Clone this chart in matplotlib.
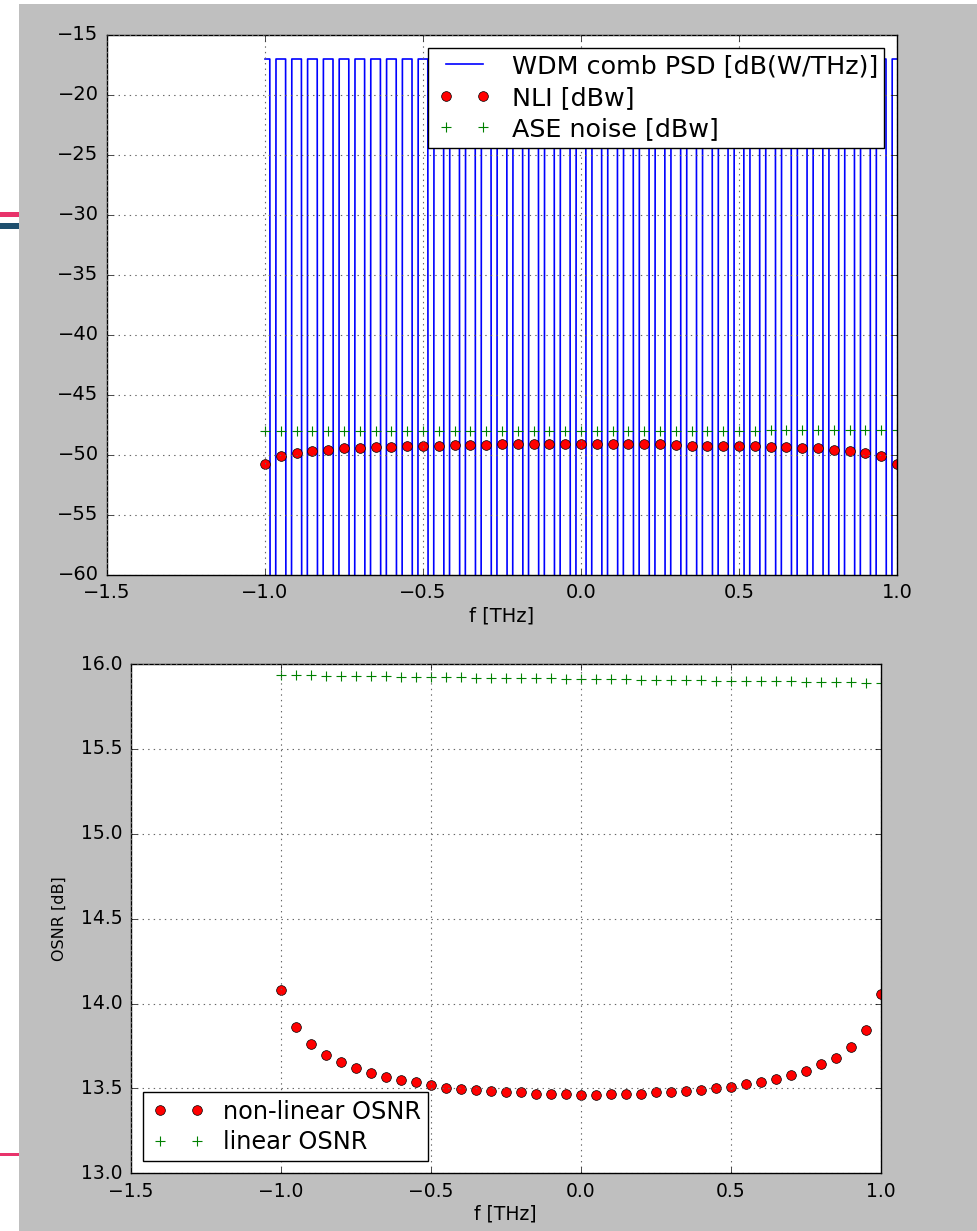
import matplotlib
matplotlib.use("Agg")
import matplotlib.pyplot as plt
from matplotlib.patches import Rectangle
from matplotlib.lines import Line2D
from matplotlib.legend_handler import HandlerLine2D
import numpy as np

plt.style.use('classic')
plt.rcParams['font.family'] = ['DejaVu Sans']

# ---------------- data ----------------
f_ch = [-1.00, -0.95, -0.90, -0.85, -0.80, -0.75, -0.70, -0.65, -0.60, -0.55,
        -0.50, -0.45, -0.40, -0.35, -0.30, -0.25, -0.20, -0.15, -0.10, -0.05,
        0.00, 0.05, 0.10, 0.15, 0.20, 0.25, 0.30, 0.35, 0.40, 0.45,
        0.50, 0.55, 0.60, 0.65, 0.70, 0.75, 0.80, 0.85, 0.90, 0.95, 1.00]

psd_level = -17.0          # dB(W/THz), flat top of every channel
symbol_rate = 0.032        # THz
roll_off = 0.05
psd_floor = -100.0         # value used where the comb is empty

nli_dbw = [-50.75, -50.06, -49.81, -49.67, -49.56, -49.45, -49.41, -49.34, -49.32, -49.24,
           -49.22, -49.21, -49.20, -49.20, -49.19, -49.12, -49.11, -49.10, -49.10, -49.10,
           -49.10, -49.10, -49.11, -49.11, -49.12, -49.12, -49.20, -49.21, -49.22, -49.22,
           -49.23, -49.24, -49.33, -49.34, -49.44, -49.45, -49.56, -49.67, -49.81, -50.06, -50.75]

ase_dbw = [-47.990, -47.989, -47.988, -47.987, -47.986, -47.985, -47.984, -47.983, -47.982, -47.981,
           -47.980, -47.979, -47.978, -47.977, -47.976, -47.975, -47.974, -47.973, -47.972, -47.971,
           -47.970, -47.969, -47.968, -47.967, -47.966, -47.965, -47.964, -47.963, -47.962, -47.961,
           -47.960, -47.959, -47.958, -47.957, -47.956, -47.955, -47.954, -47.953, -47.952, -47.951, -47.950]

osnr_nl = [14.082, 13.862, 13.761, 13.698, 13.653, 13.621, 13.590, 13.567, 13.551, 13.535,
           13.519, 13.503, 13.496, 13.488, 13.483, 13.478, 13.478, 13.469, 13.469, 13.469,
           13.459, 13.459, 13.469, 13.469, 13.469, 13.478, 13.478, 13.484, 13.492, 13.500,
           13.508, 13.524, 13.539, 13.553, 13.578, 13.600, 13.641, 13.681, 13.743, 13.843, 14.055]

osnr_lin = [15.935, 15.934, 15.933, 15.932, 15.930, 15.929, 15.928, 15.927, 15.926, 15.925,
            15.924, 15.923, 15.921, 15.920, 15.919, 15.918, 15.917, 15.916, 15.915, 15.914,
            15.912, 15.911, 15.910, 15.909, 15.908, 15.907, 15.906, 15.905, 15.903, 15.902,
            15.901, 15.900, 15.899, 15.898, 15.897, 15.896, 15.894, 15.893, 15.892, 15.891, 15.890]

top_xticks = [-1.5, -1.0, -0.5, 0.0, 0.5, 1.0]
top_yticks = [-60, -55, -50, -45, -40, -35, -30, -25, -20, -15]
bot_yticks = [13.0, 13.5, 14.0, 14.5, 15.0, 15.5, 16.0]

# ---------------- comb polyline from channel list ----------------
half_out = symbol_rate * (1 + roll_off) / 2
half_in = symbol_rate * (1 - roll_off) / 2
f_lo, f_hi = f_ch[0], f_ch[-1]
comb_f, comb_p = [], []
for c in f_ch:
    pts = [(c - half_out, psd_floor), (c - half_in, psd_level),
           (c + half_in, psd_level), (c + half_out, psd_floor)]
    for x, y in pts:
        if x < f_lo:
            x, y = f_lo, psd_level
        if x > f_hi:
            x, y = f_hi, psd_level
        comb_f.append(x)
        comb_p.append(y)

# ---------------- figure ----------------
W, H = 978, 1231
fig = plt.figure(figsize=(W / 100, H / 100), dpi=100, facecolor='#bfbfbf')

# screenshot surroundings
def px_rect(x0, y0, x1, y1, color):
    fig.patches.append(Rectangle((x0 / W, 1 - y1 / H), (x1 - x0) / W, (y1 - y0) / H,
                                 transform=fig.transFigure, facecolor=color,
                                 edgecolor='none', zorder=0))
px_rect(0, 0, 19, H, 'white')
px_rect(0, 0, W, 4, 'white')
px_rect(0, 212, 19, 217, '#e8336b')
px_rect(0, 223, 19, 229, '#1e4f6e')
px_rect(0, 1153, 19, 1156, '#e8336b')

hmap = {Line2D: HandlerLine2D(marker_pad=0.44)}

# top axes
ax1 = fig.add_axes([107 / W, 1 - 575 / H, 790 / W, 540 / H])
ax1.plot(comb_f, comb_p, color='b', lw=1.2, label='WDM comb PSD [dB(W/THz)]')
ax1.plot(f_ch, nli_dbw, 'ro', ms=7, mec='k', mew=0.5, label='NLI [dBw]')
ax1.plot(f_ch, ase_dbw, 'g+', ms=7, mew=0.8, label='ASE noise [dBw]')
ax1.set_xlim(-1.5, 1.0)
ax1.set_ylim(-60, -15)
ax1.set_xticks(top_xticks)
ax1.set_yticks(top_yticks)
ax1.grid(True, color='#666666', linestyle=':', linewidth=0.8)
ax1.tick_params(labelsize=14, pad=6)
ax1.set_xlabel('f [THz]', fontsize=14, labelpad=3)
leg1 = ax1.legend(loc='upper right', fontsize=18.3, numpoints=2, handlelength=2.36,
                  handletextpad=0.68, labelspacing=0.3, borderpad=0.25,
                  borderaxespad=0.5, fancybox=False, handler_map=hmap)
leg1.get_frame().set_edgecolor('k')

# bottom axes
ax2 = fig.add_axes([130.7 / W, 1 - 1173.3 / H, 750 / W, 509.3 / H])
ax2.plot(f_ch, osnr_nl, 'ro', ms=7, mec='k', mew=0.5, label='non-linear OSNR')
ax2.plot(f_ch, osnr_lin, 'g+', ms=7, mew=0.8, label='linear OSNR')
ax2.set_xlim(-1.5, 1.0)
ax2.set_ylim(13.0, 16.0)
ax2.set_xticks(top_xticks)
ax2.set_yticks(bot_yticks)
ax2.grid(True, color='#666666', linestyle=':', linewidth=0.8)
ax2.tick_params(labelsize=13.5, pad=6)
ax2.set_xlabel('f [THz]', fontsize=13.5, labelpad=3)
ax2.set_ylabel('OSNR [dB]', fontsize=11.5, labelpad=10)
leg2 = ax2.legend(loc='lower left', fontsize=17.3, numpoints=2, handlelength=2.38,
                  handletextpad=0.65, labelspacing=0.27, borderpad=0.3,
                  borderaxespad=0.5, fancybox=False, handler_map=hmap)
leg2.get_frame().set_edgecolor('k')

fig.savefig('out.png', dpi=100, facecolor=fig.get_facecolor())
